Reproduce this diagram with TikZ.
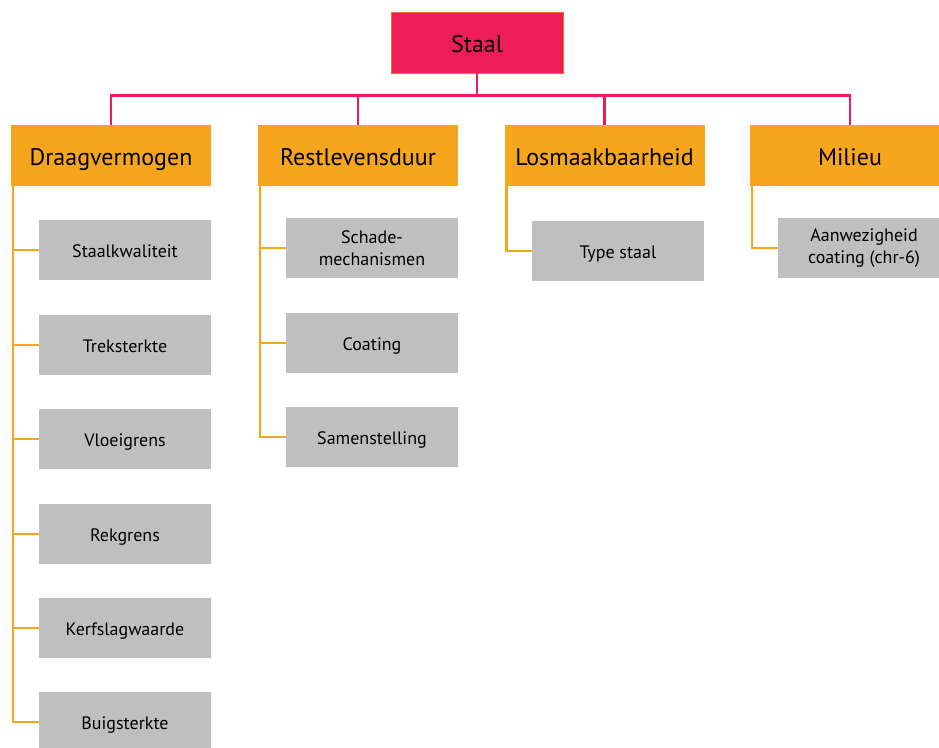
\documentclass[tikz,border=0pt]{standalone}
\usepackage{fontspec}
\setmainfont{PT Sans}
\definecolor{pinkc}{HTML}{EE1D58}
\definecolor{orangec}{HTML}{F6A61C}
\definecolor{grayc}{HTML}{BFBFBF}
\tikzset{
  rootbox/.style={fill=pinkc, draw=orangec!60!pinkc, line width=0.6pt, minimum width=172pt, minimum height=61pt, inner sep=0pt, text height=20pt, text depth=0pt, font=\fontsize{24}{28}\selectfont},
  headbox/.style={fill=orangec, minimum width=200pt, minimum height=61pt, inner sep=0pt, text height=20pt, text depth=0pt, font=\fontsize{24}{28}\selectfont},
  leafbox/.style={fill=grayc, minimum width=172pt, minimum height=60pt, inner sep=0pt, align=center, font=\fontsize{18}{22}\selectfont},
  leafone/.style={leafbox, text height=15pt, text depth=0pt},
  pinkline/.style={draw=pinkc, line width=2.4pt},
  orline/.style={draw=orangec, line width=2.4pt},
}
\begin{document}
\begin{tikzpicture}[x=1pt,y=-1pt]
\useasboundingbox (0,0) rectangle (939,747);
\begin{scope}
\clip (0,0) rectangle (939,747);
% root
\node[rootbox] (staal) at (477,42.5) {Staal};
% headers
\node[headbox] (draag) at (111,155.5) {Draagvermogen};
\node[headbox] (rest) at (358,155.5) {Restlevensduur};
\node[headbox] (los) at (604.5,155.5) {Losmaakbaarheid};
\node[headbox] (mil) at (850,155.5) {Milieu};
% pink connectors
\draw[pinkline] (staal.south) -- ++(0,22) -| (draag.north);
\draw[pinkline] (staal.south) -- ++(0,22) -| (rest.north);
\draw[pinkline] (staal.south) -- ++(0,22) -| (los.north);
\draw[pinkline] (staal.south) -- ++(0,22) -| (mil.north);
% leaves Draagvermogen
\node[leafone] (d1) at (125,250) {Staalkwaliteit};
\node[leafone] (d2) at (125,345) {Treksterkte};
\node[leafone] (d3) at (125,439) {Vloeigrens};
\node[leafone] (d4) at (125,534) {Rekgrens};
\node[leafone] (d5) at (125,628) {Kerfslagwaarde};
\node[leafone] (d6) at (125,722) {Buigsterkte};
% leaves Restlevensduur
\node[leafbox] (r1) at (372,248) {Schade-\\mechanismen};
\node[leafone] (r2) at (372,343) {Coating};
\node[leafone] (r3) at (372,437) {Samenstelling};
% leaves Losmaakbaarheid
\node[leafone] (l1) at (618,251) {Type staal};
% leaves Milieu
\node[leafbox] (m1) at (864,248) {Aanwezigheid\\coating (chr-6)};
% orange connectors
\foreach \c in {d1,d2,d3,d4,d5,d6}
  \draw[orline] ([xshift=2pt]draag.south west) |- (\c.west);
\foreach \c in {r1,r2,r3}
  \draw[orline] ([xshift=2pt]rest.south west) |- (\c.west);
\draw[orline] ([xshift=2pt]los.south west) |- (l1.west);
\draw[orline] ([xshift=2pt]mil.south west) |- (m1.west);
\end{scope}
\end{tikzpicture}
\end{document}
